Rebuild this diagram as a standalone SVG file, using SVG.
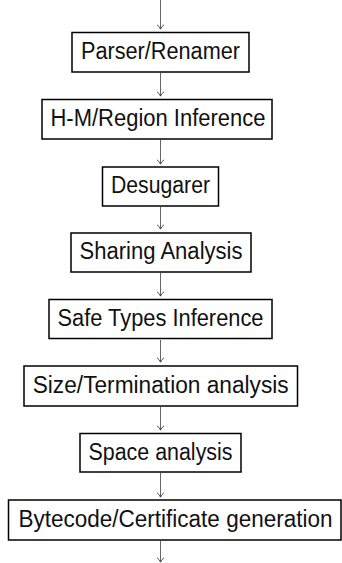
<svg xmlns="http://www.w3.org/2000/svg" width="342" height="563" viewBox="0 0 342 563">
<defs>
<style>
.box{fill:#fff;stroke:#000;stroke-width:1.5}
.lbl{font-family:"Liberation Sans","DejaVu Sans",sans-serif;font-size:23px;fill:#111;text-anchor:middle}
.arr{fill:none;stroke:#333;stroke-width:0.75}
</style>
<marker id="ah" markerWidth="10" markerHeight="10" refX="5" refY="8" orient="0" markerUnits="userSpaceOnUse" viewBox="0 0 10 10">
<path d="M1.5,3.8 Q4,5.5 5,8.2 Q6,5.5 8.5,3.8" fill="none" stroke="#333" stroke-width="0.85"/>
</marker>
</defs>
<rect width="342" height="563" fill="#fff"/>
<g id="connectors">
<line class="arr" x1="160.5" y1="0" x2="160.5" y2="29" marker-end="url(#ah)"/>
<line class="arr" x1="160.5" y1="73" x2="160.5" y2="96" marker-end="url(#ah)"/>
<line class="arr" x1="160.5" y1="140" x2="160.5" y2="164" marker-end="url(#ah)"/>
<line class="arr" x1="160.5" y1="207" x2="160.5" y2="229" marker-end="url(#ah)"/>
<line class="arr" x1="160.5" y1="273" x2="160.5" y2="296" marker-end="url(#ah)"/>
<line class="arr" x1="160.5" y1="340" x2="160.5" y2="362" marker-end="url(#ah)"/>
<line class="arr" x1="160.5" y1="407" x2="160.5" y2="430" marker-end="url(#ah)"/>
<line class="arr" x1="160.5" y1="473" x2="160.5" y2="497" marker-end="url(#ah)"/>
<line class="arr" x1="160.5" y1="541" x2="160.5" y2="562" marker-end="url(#ah)"/>
</g>
<g id="parser">
<rect class="box" x="72" y="32.5" width="177" height="39.5"/>
<text class="lbl" x="160.5" y="58.5" textLength="159" lengthAdjust="spacingAndGlyphs">Parser/Renamer</text>
</g>
<g id="hm">
<rect class="box" x="42" y="99.5" width="230" height="39.5"/>
<text class="lbl" x="158" y="125.5" textLength="215" lengthAdjust="spacingAndGlyphs">H-M/Region Inference</text>
</g>
<g id="desugarer">
<rect class="box" x="102.5" y="167" width="116" height="39"/>
<text class="lbl" x="160.5" y="193" textLength="99" lengthAdjust="spacingAndGlyphs">Desugarer</text>
</g>
<g id="sharing">
<rect class="box" x="71" y="233" width="180" height="39"/>
<text class="lbl" x="161" y="259" textLength="163" lengthAdjust="spacingAndGlyphs">Sharing Analysis</text>
</g>
<g id="safetypes">
<rect class="box" x="49" y="299.5" width="223" height="39"/>
<text class="lbl" x="160.5" y="325.5" textLength="206" lengthAdjust="spacingAndGlyphs">Safe Types Inference</text>
</g>
<g id="size">
<rect class="box" x="24" y="366" width="273.5" height="40"/>
<text class="lbl" x="160.7" y="392.5" textLength="256" lengthAdjust="spacingAndGlyphs">Size/Termination analysis</text>
</g>
<g id="space">
<rect class="box" x="80" y="433.5" width="161" height="38.5"/>
<text class="lbl" x="160.5" y="459.5" textLength="144" lengthAdjust="spacingAndGlyphs">Space analysis</text>
</g>
<g id="bytecode">
<rect class="box" x="8.5" y="500" width="332.5" height="40"/>
<text class="lbl" x="175.5" y="526.5" textLength="314" lengthAdjust="spacingAndGlyphs">Bytecode/Certificate generation</text>
</g>
</svg>
